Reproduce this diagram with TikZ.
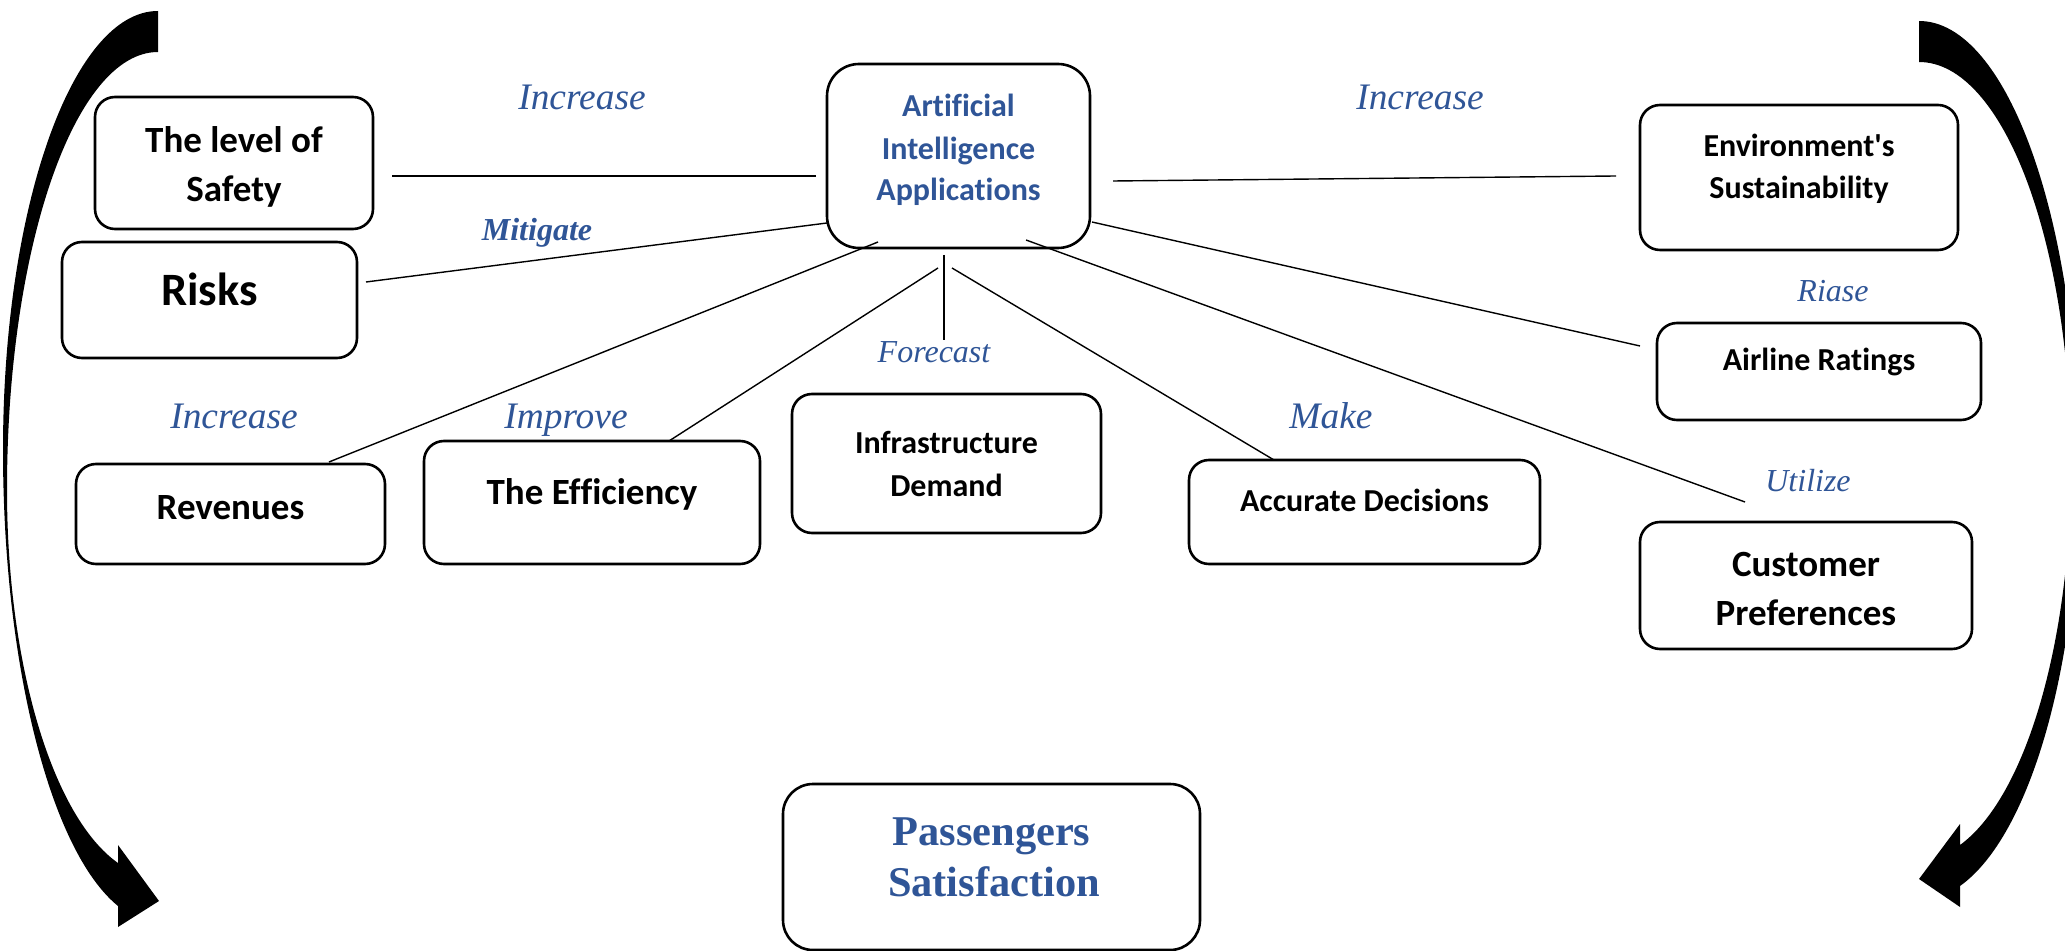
\documentclass[tikz,border=0pt]{standalone}
\usepackage{fontspec}
\setmainfont{Liberation Serif}
\newfontfamily\boxfont{Carlito}[Ligatures=NoCommon]
\definecolor{aiblue}{HTML}{2F5597}

\begin{document}
\begin{tikzpicture}[x=0.5pt,y=-0.5pt,
  box/.style={draw, line width=1.3pt, rounded corners=10pt, inner sep=0pt},
  boxtext/.style={anchor=base, inner sep=0pt, font=\boxfont\bfseries\fontsize{18.5pt}{22pt}\selectfont},
  smalltext/.style={boxtext, font=\boxfont\bfseries\fontsize{16pt}{19pt}\selectfont},
  verb/.style={anchor=base, inner sep=0pt, text=aiblue, font=\itshape\fontsize{18.7pt}{22pt}\selectfont},
  smallverb/.style={verb, font=\itshape\fontsize{16pt}{19pt}\selectfont},
  link/.style={line width=0.7pt}]

\useasboundingbox (0,0) rectangle (2065,951);
\fill[white] (0,0) rectangle (2065,951);
\clip (0,0) rectangle (2065,951);

% ---- boxes ----
\node[box, minimum width=131.5pt, minimum height=92pt, rounded corners=16pt] (ai) at (958.5,156) {};
\node[box, minimum width=139pt, minimum height=66pt] (safety) at (234,163) {};
\node[box, minimum width=147.5pt, minimum height=58pt] (risks) at (209.5,300) {};
\node[box, minimum width=154.5pt, minimum height=50pt] (revenues) at (230.5,514) {};
\node[box, minimum width=168pt, minimum height=61.5pt] (efficiency) at (592,502.5) {};
\node[box, minimum width=154.5pt, minimum height=69.5pt] (infra) at (946.5,463.5) {};
\node[box, minimum width=175.5pt, minimum height=52pt] (accurate) at (1364.5,512) {};
\node[box, minimum width=166pt, minimum height=63.5pt] (customer) at (1806,585.5) {};
\node[box, minimum width=162pt, minimum height=48.5pt] (airline) at (1819,371.5) {};
\node[box, minimum width=159pt, minimum height=72.5pt] (env) at (1799,177.5) {};
\node[box, minimum width=208.5pt, minimum height=83pt, rounded corners=15pt] (pass) at (991.5,867) {};

% ---- box texts ----
\node[smalltext, text=aiblue] (ai-1) at (958.5,117) {Artificial};
\node[smalltext, text=aiblue] (ai-2) at (958.5,160) {Intelligence};
\node[smalltext, text=aiblue] (ai-3) at (958.5,201) {Applications};
\node[boxtext] (safety-1) at (234,153) {The level of};
\node[boxtext] (safety-2) at (234,202) {Safety};
\node[boxtext, font=\boxfont\bfseries\fontsize{23.2pt}{28pt}\selectfont] (risks-1) at (209.5,306) {Risks};
\node[boxtext] (revenues-1) at (230.5,519) {Revenues};
\node[boxtext] (efficiency-1) at (592,504) {The Efficiency};
\node[smalltext] (infra-1) at (946.5,454) {Infrastructure};
\node[smalltext] (infra-2) at (946.5,496) {Demand};
\node[smalltext] (accurate-1) at (1364.5,511) {Accurate Decisions};
\node[smalltext] (airline-1) at (1819,371) {Airline Ratings};
\node[smalltext] (env-1) at (1799,157) {Environment's};
\node[smalltext] (env-2) at (1799,199) {Sustainability};
\node[boxtext] (customer-1) at (1806,576) {Customer};
\node[boxtext] (customer-2) at (1806,625) {Preferences};
\node[anchor=base, inner sep=0pt, text=aiblue, font=\bfseries\fontsize{21.2pt}{25pt}\selectfont] (pass-1) at (991.5,845) {Passengers};
\node[anchor=base, inner sep=0pt, text=aiblue, font=\bfseries\fontsize{21.2pt}{25pt}\selectfont] (pass-2) at (994,896) {Satisfaction};

% ---- connector ends ----
\coordinate (ai-safety) at (816,176);   \coordinate (safety-end) at (392,176);
\coordinate (ai-risks) at (827,223);    \coordinate (risks-end) at (366,282);
\coordinate (ai-rev) at (878,242);      \coordinate (rev-end) at (329,462);
\coordinate (ai-eff) at (938,268);      \coordinate (eff-end) at (669,441);
\coordinate (ai-infra) at (944,255);    \coordinate (infra-end) at (944,340);
\coordinate (ai-acc) at (952,268);      \coordinate (acc-end) at (1274,460);
\coordinate (ai-cust) at (1026,240);    \coordinate (cust-end) at (1745,502);
\coordinate (ai-air) at (1092,222);     \coordinate (air-end) at (1640,346);
\coordinate (ai-env) at (1113,181);     \coordinate (env-end) at (1616,176);

\draw[link] (ai-safety) -- (safety-end);
\draw[link] (ai-risks) -- (risks-end);
\draw[link] (ai-rev) -- (rev-end);
\draw[link] (ai-eff) -- (eff-end);
\draw[link] (ai-infra) -- (infra-end);
\draw[link] (ai-acc) -- (acc-end);
\draw[link] (ai-cust) -- (cust-end);
\draw[link] (ai-air) -- (air-end);
\draw[link] (ai-env) -- (env-end);

% ---- connector labels ----
\node[verb] (lab-safety) at (582,110) {Increase};
\node[smallverb, font=\bfseries\itshape\fontsize{16pt}{19pt}\selectfont] (lab-risks) at (537,241) {Mitigate};
\node[verb] (lab-rev) at (234,429) {Increase};
\node[verb] (lab-eff) at (566,429) {Improve};
\node[smallverb] (lab-infra) at (934,363) {Forecast};
\node[verb] (lab-acc) at (1331,429) {Make};
\node[verb] (lab-env) at (1420,110) {Increase};
\node[smallverb] (lab-air) at (1833,302) {Riase};
\node[smallverb] (lab-cust) at (1808,492) {Utilize};

% ---- curved arrows on both sides ----
\fill[black] (158,11) .. controls (72.4,11) and (3,207.5) .. (3,450)
  .. controls (3,663.8) and (50.2,850.8) .. (118,906)
  -- (118,927) -- (159,901) -- (118,845) -- (118,863)
  .. controls (52.5,816.9) and (7,664.2) .. (7,490)
  .. controls (7,248.1) and (74.6,52) .. (158,52) -- cycle;

\fill[black] (1919,21) .. controls (2007.4,21) and (2079,222) .. (2079,470)
  .. controls (2079,665.2) and (2030.2,836) .. (1960,886)
  -- (1960,907) -- (1919,879) -- (1960,824) -- (1960,845)
  .. controls (2025.6,797.2) and (2071,642.2) .. (2071,465)
  .. controls (2071,242.4) and (2003,62) .. (1919,62) -- cycle;
\end{tikzpicture}
\end{document}
